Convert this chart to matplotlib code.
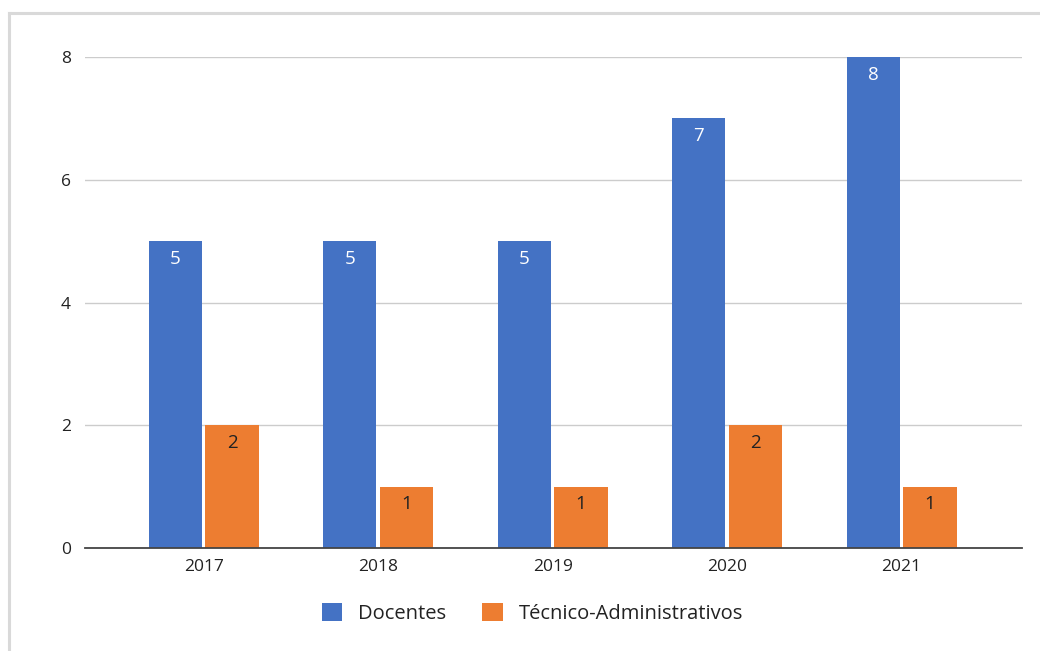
import matplotlib.pyplot as plt
import numpy as np
from matplotlib.lines import Line2D

plt.rcParams['font.family'] = ['Open Sans', 'DejaVu Sans']

anos = ['2017', '2018', '2019', '2020', '2021']
docentes = [5, 5, 5, 7, 8]
tecnicos = [2, 1, 1, 2, 1]

azul = '#4472C4'
laranja = '#ED7D31'

fig = plt.figure(figsize=(10.4, 6.51), dpi=100)
ax = fig.add_axes([0.0817, 0.1582, 0.9010, 0.7542])

# moldura cinza clara (cortada a direita e embaixo)
fig.add_artist(Line2D([0.0087, 0.0087], [0, 0.9805], transform=fig.transFigure,
                      color='#d9d9d9', lw=2.2))
fig.add_artist(Line2D([0.0087, 1.0], [0.9805, 0.9805], transform=fig.transFigure,
                      color='#d9d9d9', lw=2.2))

x = np.arange(len(anos))
w = 0.305
off = 0.163
b1 = ax.bar(x - off, docentes, w, color=azul, label='Docentes', zorder=3)
b2 = ax.bar(x + off, tecnicos, w, color=laranja, label='Técnico-Administrativos', zorder=3)

for r, v in zip(b1, docentes):
    ax.text(r.get_x() + r.get_width() / 2, v - 0.29, str(v), ha='center', va='center',
            color='white', fontsize=13.5, zorder=4)
for r, v in zip(b2, tecnicos):
    ax.text(r.get_x() + r.get_width() / 2, v - 0.29, str(v), ha='center', va='center',
            color='#222222', fontsize=13.5, zorder=4)

ax.set_ylim(0, 8)
ax.set_xlim(-0.68, 4.69)
ax.set_yticks([0, 2, 4, 6, 8])
ax.set_xticks(x)
ax.set_xticklabels(anos)
ax.grid(axis='y', color='#cccccc', lw=1, zorder=0)
for s in ['top', 'right', 'left']:
    ax.spines[s].set_visible(False)
ax.spines['bottom'].set_color('#444444')
ax.spines['bottom'].set_linewidth(1.3)
ax.spines['bottom'].set_zorder(5)
ax.tick_params(axis='both', length=0, labelsize=12.5, colors='#222222')
ax.tick_params(axis='y', pad=10)
ax.tick_params(axis='x', pad=8)

fig.legend(loc='center', bbox_to_anchor=(0.512, 0.058), ncol=2, frameon=False,
           fontsize=14.5, handlelength=1.0, handleheight=1.0, handletextpad=0.8,
           columnspacing=1.8, labelcolor='#222222')

fig.savefig('out.png', dpi=100)
